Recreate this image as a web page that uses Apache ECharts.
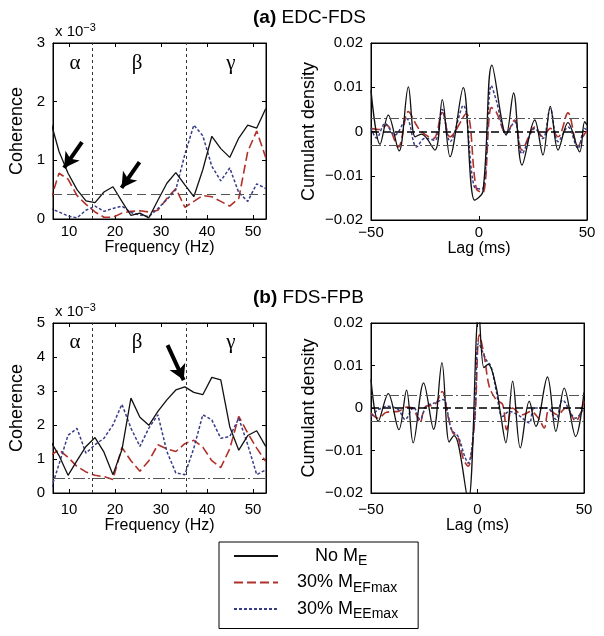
<!DOCTYPE html>
<html><head><meta charset="utf-8">
<script src="https://cdn.jsdelivr.net/npm/echarts@6/dist/echarts.min.js"></script>
<style>html,body{margin:0;padding:0;background:#fff}#c{width:604px;height:636px}</style>
</head><body><div id="c"></div>
<script>
// ---------- DATA ----------
// Coherence (x 10^-3) vs frequency (Hz)
const freq = [5.86, 7.81, 9.77, 11.72, 13.67, 15.63, 17.58, 19.53, 21.48, 23.44, 25.39, 27.34, 29.30, 31.25, 33.20, 35.16, 37.11, 39.06, 41.02, 42.97, 44.92, 46.88, 48.83, 50.78, 52.73];
const freqTicks = [10, 20, 30, 40, 50];
// (a) EDC-FDS
const cohNoA = [1.70, 1.15, 0.78, 0.50, 0.31, 0.28, 0.46, 0.55, 0.30, 0.06, 0.10, 0.02, 0.32, 0.61, 0.79, 0.58, 0.38, 0.84, 1.41, 1.20, 1.05, 1.38, 1.60, 1.55, 1.88];
const cohEFA = [0.30, 0.78, 0.68, 0.40, 0.25, 0.12, 0.03, 0.03, 0.10, 0.13, 0.14, 0.12, 0.15, 0.35, 0.52, 0.20, 0.30, 0.40, 0.38, 0.30, 0.22, 0.35, 1.15, 1.50, 1.05];
const cohEEA = [0.18, 0.12, 0.05, 0.02, 0.15, 0.22, 0.13, 0.18, 0.22, 0.11, 0.07, 0.04, 0.18, 0.33, 0.50, 1.10, 1.60, 1.42, 0.90, 0.65, 0.87, 0.45, 0.30, 0.60, 0.52];
const cohLimitA = 0.43;
// (b) FDS-FPB
const cohNoB = [1.55, 1.10, 0.52, 0.95, 1.37, 1.63, 1.20, 0.54, 1.27, 2.79, 2.23, 1.99, 2.40, 2.74, 3.03, 3.12, 2.96, 2.89, 3.40, 3.33, 1.95, 1.26, 1.69, 1.83, 1.37];
const cohEFB = [1.10, 1.27, 1.05, 0.78, 0.62, 0.52, 0.48, 0.40, 1.34, 0.95, 0.64, 0.95, 1.42, 1.30, 1.22, 1.45, 1.55, 1.35, 0.95, 0.75, 1.30, 2.25, 1.76, 1.32, 0.93];
const cohEEB = [0.02, 0.85, 1.70, 1.90, 1.17, 1.42, 1.61, 2.00, 2.61, 1.91, 1.37, 1.91, 2.30, 1.22, 0.59, 0.54, 1.32, 2.30, 2.15, 1.61, 1.66, 2.20, 1.42, 0.54, 0.68];
const cohLimitB = 0.42;
const bandEdges = [15, 35.4];
const bandNames = ['α', 'β', 'γ'];

// Cumulant density (x 10^-3) vs lag (ms)
const lagNoA = [-50, -45.8, -42, -37, -32.7, -29.6, -26.6, -20.4, -17, -13.4, -7.3, -2.1, 1.8, 6.0, 12.6, 16.0, 19.9, 25.8, 29.6, 33.0, 36.6, 41.2, 46.6, 48.9, 50];
const cdNoA  = [9.3, -2.9, 3.7, -4.4, 10.1, -1.2, -0.6, -4.2, 7.2, -5.7, 9.9, -15.5, -13.6, 15.0, -0.8, 8.7, -7.6, 2.6, -5.3, 5.7, -4.2, 2.0, -4.6, 2.2, 1.5];
const lagEFA = [-50, -46.6, -42.8, -37.4, -32.7, -28.9, -26.6, -21.1, -17, -13.4, -6, -1.2, 1.8, 5.7, 8, 12.6, 16.5, 19.9, 25.8, 29.6, 33.0, 36.6, 41.2, 45.8, 48.9, 50];
const cdEFA  = [0.7, 0.45, 1.4, -3.5, 4.5, 1.4, -0.1, -1.6, 4.3, -1.2, 4.0, -13.0, -13.8, 5.4, 4.4, -0.5, 2.6, -4.2, 1.0, -1.2, 0.7, -1.2, 4.2, -3.3, -0.5, 0.0];
const lagEEA = [-50, -47.4, -43.5, -39, -33.5, -28.9, -25, -20.4, -17, -13.4, -7.3, -2.2, 1.5, 5.7, 8, 12.6, 16.5, 19.9, 25.8, 29.6, 33.0, 36.6, 41.2, 45.8, 48.9, 50];
const cdEEA  = [0.8, -1.5, 1.8, -0.8, 2.9, -3.5, -1.5, -2.0, 5.0, -2.3, 5.9, -12.5, -13.0, 10.4, 7.0, -0.5, 2.2, -5.0, 0.7, -1.6, 5.2, -2.3, 1.0, -3.8, 0.7, 0.3];
const lagNoB = [-50, -46.6, -41.9, -36.9, -33.3, -30.2, -25.3, -20.6, -16.7, -13.3, -11.0, -8.8, -4.3, 0.6, 3.0, 5.0, 8.7, 11.0, 13.3, 16.5, 20.1, 24.3, 27.4, 32.85, 36.8, 40.7, 46.1, 50];
const cdNoB  = [6.7, -3.1, 3.4, -5.1, 4.2, -8.2, 5.9, -5.0, 10.7, -8.0, -6.5, -9.0, -22, 23, 9.5, 10.3, 5.1, -2.0, -8.2, 6.3, -9.4, 1.6, -4.3, 7.3, -5.5, 4.7, -6.7, 3.7];
const lagEFB = [-50, -46.6, -42.7, -37.2, -33.3, -30, -27, -24.5, -20, -16.6, -13.8, -11.5, -9.3, -6.5, -4.4, -1.3, 0.9, 3.2, 5.5, 8.7, 11.8, 13.7, 16.5, 21.1, 25.1, 29, 31.3, 33.6, 37.5, 41.4, 46.1, 50];
const cdEFB  = [-1.2, -2.4, -1.0, -0.8, 0.2, -0.3, -3.5, 0.3, 0.8, 3.9, -2.0, -5.9, -6.7, -12.2, -13.7, -2.8, 17.2, 12.2, 5.1, 2.0, 0.8, -5.1, 0.0, -1.6, -0.8, -2.7, -4.7, -0.4, -1.6, 0.0, -3.1, 1.6];
const lagEEB = [-50, -46.6, -41.9, -37.2, -34, -30, -27, -24, -20, -16.2, -12.2, -9.1, -6.0, -4.4, -1.3, 0.55, 4.0, 6.3, 8.7, 11.8, 14.9, 19.5, 24.3, 26.6, 32.85, 36.8, 39.9, 46.1, 50];
const cdEEB  = [-2.0, -0.4, 0.4, -0.4, -2.7, 0.2, -2.7, 0.4, 1.2, 2.0, -5.1, -6.7, -11.4, -13.0, -2.0, 15.3, 11.4, 9.8, 4.3, -2.0, -0.8, -1.8, -3.5, 0.0, 0.0, -2.7, 1.9, -2.4, 0.0];
const cdLimits = [3, -3];

const seriesNames = ['No ME', '30% MEFmax', '30% MEEmax'];
const titles = [['(a)', 'EDC-FDS'], ['(b)', 'FDS-FPB']];

// ---------- CHART ----------
const FONT = '"Liberation Sans", Arial, sans-serif';
const chart = echarts.init(document.getElementById('c'), null, {renderer: 'canvas'});
const pairs = (xs, ys) => xs.map((x, i) => [x, ys[i]]);
const STY = [
  {color: '#111111', width: 1.3, type: 'solid'},
  {color: '#b0302a', width: 1.6, type: [9, 4]},
  {color: '#383c88', width: 1.5, type: [3, 2]}
];

const grids = [
  {left: 53, top: 43, width: 213, height: 176},
  {left: 371, top: 43, width: 216, height: 177},
  {left: 53, top: 323, width: 213, height: 170},
  {left: 371, top: 323, width: 213, height: 170}
].map(g => Object.assign({show: true, borderColor: '#000', borderWidth: 1, backgroundColor: '#fff', containLabel: false, outerBoundsMode: 'none'}, g));

const xAxes = [], yAxes = [];
const lineK = {show: true, onZero: false, lineStyle: {color: '#000', width: 1}};
function tick(extra) { return Object.assign({show: true, inside: true, length: 4, lineStyle: {color: '#000'}}, extra || {}); }
function addAxes(gi, kind, labMargin, nameGapX) {
  const isCoh = kind === 'coh';
  const ymax = isCoh ? (gi === 0 ? 3 : 5) : 20;
  const xBase = isCoh
    ? {type: 'value', min: 6.5, max: 52.8, splitLine: {show: false}}
    : {type: 'value', min: -50, max: 50, interval: 50, splitLine: {show: false}};
  const yBase = isCoh
    ? {type: 'value', min: 0, max: ymax, interval: 1, splitLine: {show: false}}
    : {type: 'value', min: -20, max: 20, interval: 10, splitLine: {show: false}};
  const xLab = {color: '#000', fontSize: 15, fontFamily: FONT, margin: labMargin,
    formatter: v => String(v).replace('-', '−')};
  if (isCoh) xLab.customValues = freqTicks;
  const xTick = isCoh ? tick({customValues: freqTicks}) : tick();
  xAxes.push(Object.assign({}, xBase, {gridIndex: gi, position: 'bottom', axisLine: lineK, axisTick: xTick, axisLabel: xLab,
    name: isCoh ? 'Frequency (Hz)' : 'Lag (ms)', nameLocation: 'middle', nameGap: nameGapX,
    nameTextStyle: {color: '#000', fontSize: 16, fontFamily: FONT}}));
  xAxes.push(Object.assign({}, xBase, {gridIndex: gi, position: 'top', axisLine: lineK, axisTick: isCoh ? tick({customValues: freqTicks}) : tick(), axisLabel: {show: false}}));
  yAxes.push(Object.assign({}, yBase, {gridIndex: gi, position: 'left', axisLine: lineK, axisTick: tick(),
    axisLabel: {color: '#000', fontSize: 15, fontFamily: FONT, margin: 8,
      formatter: v => isCoh ? String(v) : (v === 0 ? '0' : String(v / 1000).replace('-', '−'))},
    name: isCoh ? 'Coherence' : 'Cumulant density', nameLocation: 'middle', nameRotate: 90,
    nameGap: isCoh ? 27 : 53, nameTextStyle: {color: '#000', fontSize: 18, fontFamily: FONT}}));
  yAxes.push(Object.assign({}, yBase, {gridIndex: gi, position: 'right', axisLine: lineK, axisTick: tick(), axisLabel: {show: false}}));
}
addAxes(0, 'coh', 5, 16);
addAxes(1, 'cd', 5, 21);
addAxes(2, 'coh', 9, 23);
addAxes(3, 'cd', 9, 23);

const series = [];
function addSeries(gi, dataList, smooth, markNo, markEF) {
  dataList.forEach((d, k) => {
    const s = {
      type: 'line', name: seriesNames[k], xAxisIndex: gi * 2, yAxisIndex: gi * 2,
      data: d, showSymbol: false, symbol: 'none', smooth: smooth, clip: true,
      lineStyle: {color: STY[k].color, width: STY[k].width, type: STY[k].type},
      itemStyle: {color: STY[k].color}, z: 3 + (k === 0 ? 1 : 0), animation: false, silent: true
    };
    if (k === 0 && markNo) s.markLine = markNo;
    if (k === 1 && markEF) s.markLine = markEF;
    series.push(s);
  });
}
const vline = {type: [3, 3], color: '#333', width: 1};
function cohMarks(limit, limStyle) {
  return {silent: true, symbol: 'none', animation: false, label: {show: false},
    data: [
      {xAxis: bandEdges[0], lineStyle: vline},
      {xAxis: bandEdges[1], lineStyle: vline},
      {yAxis: limit, lineStyle: limStyle}
    ]};
}
function arrowMarks(list) {
  return {silent: true, animation: false, label: {show: false}, symbol: ['none', 'arrow'], symbolSize: [13, 15],
    lineStyle: {color: '#000', width: 4, type: 'solid'},
    data: list.map(a => [{coord: a[0]}, {coord: a[1]}])};
}
function cdMarks() {
  const dd = {type: [10, 3, 2, 3], color: '#555', width: 1};
  return {silent: true, symbol: 'none', animation: false, label: {show: false},
    data: [
      {yAxis: cdLimits[0], lineStyle: dd},
      {yAxis: cdLimits[1], lineStyle: dd},
      {yAxis: 0, lineStyle: {type: [8, 4], color: '#000', width: 1.5}}
    ]};
}
addSeries(0, [pairs(freq, cohNoA), pairs(freq, cohEFA), pairs(freq, cohEEA)], false,
  cohMarks(cohLimitA, {type: [9, 5], color: '#555', width: 1}),
  arrowMarks([[[12.8, 1.31], [8.9, 0.87]], [[25.3, 0.97], [21.4, 0.53]]]));
addSeries(1, [pairs(lagNoA, cdNoA), pairs(lagEFA, cdEFA), pairs(lagEEA, cdEEA)], 0.35, cdMarks(), null);
addSeries(2, [pairs(freq, cohNoB), pairs(freq, cohEFB), pairs(freq, cohEEB)], false,
  cohMarks(cohLimitB, {type: [12, 3, 2, 3], color: '#555', width: 1}),
  arrowMarks([[[31.4, 4.35], [34.9, 3.32]]]));
addSeries(3, [pairs(lagNoB, cdNoB), pairs(lagEFB, cdEFB), pairs(lagEEB, cdEEB)], 0.35, cdMarks(), null);

const legendText = {
  'No ME': '{g|}{p|}{m|No M}{s|E}',
  '30% MEFmax': '{g|}{m|30% M}{s|EFmax}',
  '30% MEEmax': '{g|}{m|30% M}{s|EEmax}'
};

const greek = (y) => bandNames.map((t, i) => ({
  type: 'text', x: [75, 137, 231][i], y: y, z: 10,
  style: {text: t, font: '21px "Liberation Serif", "DejaVu Serif", serif', fill: '#000',
    textAlign: 'center', textVerticalAlign: 'middle', align: 'center', verticalAlign: 'middle'}
}));
const mult = (y) => ({
  type: 'text', x: 55, y: y, z: 10,
  style: {text: '{a|x 10}{b|−3}', fill: '#000',
    rich: {a: {font: '15px ' + FONT, fontSize: 15, lineHeight: 20, verticalAlign: 'middle', fill: '#000'},
           b: {font: '11px ' + FONT, fontSize: 11, lineHeight: 20, verticalAlign: 'top', fill: '#000'}}}
});
const title = (t, y) => ({
  type: 'text', x: 253, y: y, z: 10,
  style: {text: '{b|' + t[0] + '} {n|' + t[1] + '}', fill: '#000', font: '19px ' + FONT,
    rich: {b: {font: 'bold 19px ' + FONT, fontSize: 19, fontWeight: 'bold', fill: '#000'},
           n: {font: '19px ' + FONT, fontSize: 19, fill: '#000'}}}
});

chart.setOption({
  backgroundColor: '#fff',
  animation: false,
  grid: grids,
  xAxis: xAxes,
  yAxis: yAxes,
  series: series,
  legend: {
    orient: 'vertical', left: 219, top: 542, itemWidth: 44, itemHeight: 14, itemGap: 5,
    padding: [5, 20, 7, 14], borderColor: '#000', borderWidth: 1, backgroundColor: '#fff',
    selectedMode: false, data: seriesNames,
    itemStyle: {opacity: 0, borderWidth: 0},
    formatter: n => legendText[n],
    textStyle: {color: '#000', fontFamily: FONT, fontSize: 18,
      rich: {
        g: {width: 14},
        p: {width: 18},
        m: {fontSize: 18, fontFamily: FONT, color: '#000', lineHeight: 24, verticalAlign: 'middle'},
        s: {fontSize: 14, fontFamily: FONT, color: '#000', lineHeight: 25, verticalAlign: 'bottom'}
      }}
  },
  graphic: [].concat(greek(63), greek(342), [mult(22), mult(302), title(titles[0], 8), title(titles[1], 288)])
});
</script></body></html>
